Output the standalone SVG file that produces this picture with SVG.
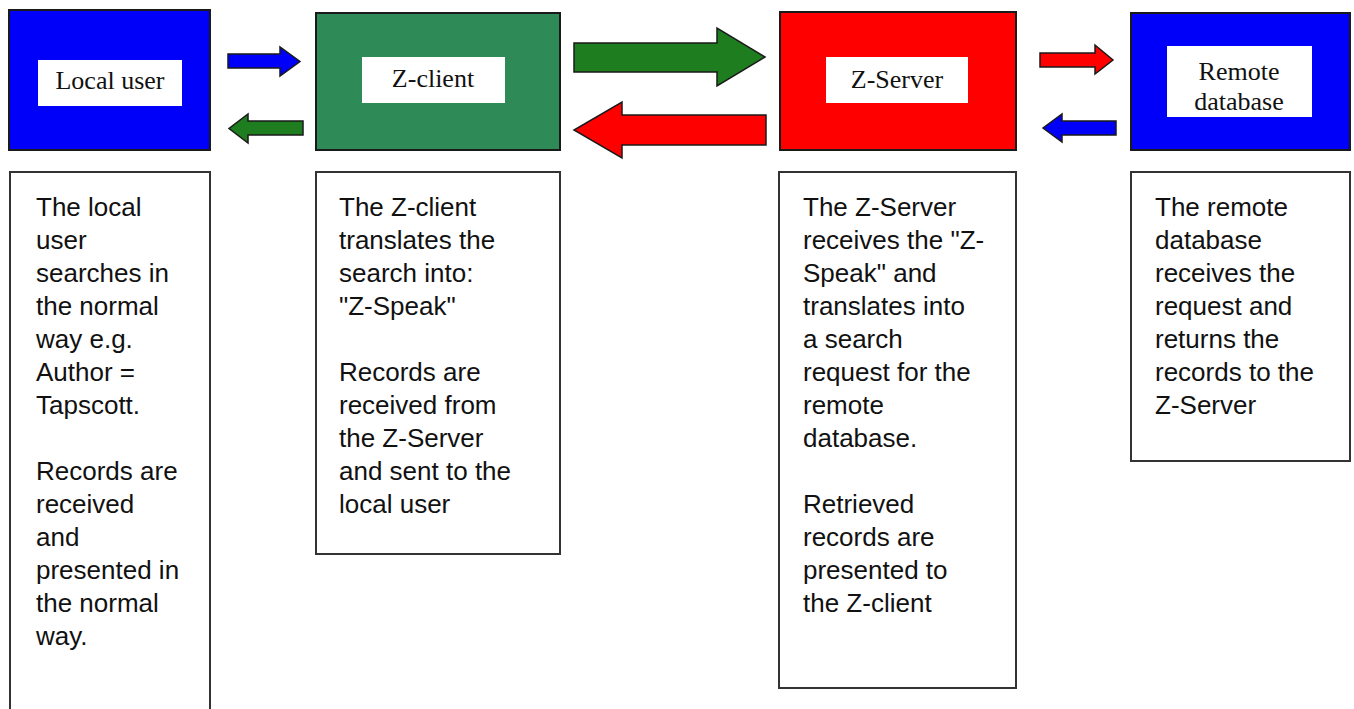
<svg xmlns="http://www.w3.org/2000/svg" width="1354" height="709" viewBox="0 0 1354 709">
<style>
.node{stroke:#1a1a1a;stroke-width:2}
.blue{fill:#0000fa}
.green{fill:#2e8b57}
.red{fill:#ff0000}
.lbl{fill:#ffffff}
.title{font-family:"Liberation Serif","Times New Roman",serif;font-size:26px;fill:#111;text-anchor:middle}
.desc{fill:#ffffff;stroke:#333;stroke-width:2}
.txt{font-family:"Liberation Sans",Arial,sans-serif;font-size:26px;fill:#111}
.arr{stroke:#1a1a1a;stroke-width:1.5;stroke-linejoin:miter}
.ag{fill:#1e7d1e}
.ab{fill:#0000fa}
.ar{fill:#ff0000}
</style>
<rect width="1354" height="709" fill="#ffffff"/>

<g id="local-user">
<rect class="node blue" x="9" y="10" width="201" height="140"/>
<rect class="lbl" x="38" y="60" width="144" height="46"/>
<text class="title" x="110" y="89">Local user</text>
</g>

<g id="z-client">
<rect class="node green" x="316" y="13" width="244" height="137"/>
<rect class="lbl" x="362" y="57" width="143" height="46"/>
<text class="title" x="433" y="87">Z-client</text>
</g>

<g id="z-server">
<rect class="node red" x="780" y="12" width="236" height="138"/>
<rect class="lbl" x="826" y="57" width="142" height="46"/>
<text class="title" x="897" y="88">Z-Server</text>
</g>

<g id="remote-database">
<rect class="node blue" x="1131" y="13" width="219" height="137"/>
<rect class="lbl" x="1167" y="46" width="145" height="71"/>
<text class="title" x="1239" y="80">Remote</text>
<text class="title" x="1239" y="110">database</text>
</g>

<g id="connectors">
<polygon class="arr ab" points="228,54 280,54 280,47 300,61.5 280,76 280,68 228,68"/>
<polygon class="arr ag" points="303,121 248,121 248,114 229,128.5 248,143 248,135 303,135"/>
<polygon class="arr ag" points="574,43 717,43 717,28 765,57 717,86 717,72 574,72"/>
<polygon class="arr ar" points="766,115 622,115 622,102 574,130 622,158 622,145 766,145"/>
<polygon class="arr ar" points="1040,53 1095,53 1095,45 1113,60 1095,74 1095,67 1040,67"/>
<polygon class="arr ab" points="1116,121 1062,121 1062,114 1043,128 1062,142 1062,135 1116,135"/>
</g>

<g id="local-user-desc">
<rect class="desc" x="10" y="172" width="200" height="545"/>
<text class="txt" x="36" y="216">
<tspan x="36" dy="0">The local</tspan>
<tspan x="36" dy="33">user</tspan>
<tspan x="36" dy="33">searches in</tspan>
<tspan x="36" dy="33">the normal</tspan>
<tspan x="36" dy="33">way e.g.</tspan>
<tspan x="36" dy="33">Author =</tspan>
<tspan x="36" dy="33">Tapscott.</tspan>
<tspan x="36" dy="66">Records are</tspan>
<tspan x="36" dy="33">received</tspan>
<tspan x="36" dy="33">and</tspan>
<tspan x="36" dy="33">presented in</tspan>
<tspan x="36" dy="33">the normal</tspan>
<tspan x="36" dy="33">way.</tspan>
</text>
</g>

<g id="z-client-desc">
<rect class="desc" x="316" y="172" width="244" height="382"/>
<text class="txt" x="339" y="216">
<tspan x="339" dy="0">The Z-client</tspan>
<tspan x="339" dy="33">translates the</tspan>
<tspan x="339" dy="33">search into:</tspan>
<tspan x="339" dy="33">"Z-Speak"</tspan>
<tspan x="339" dy="66">Records are</tspan>
<tspan x="339" dy="33">received from</tspan>
<tspan x="339" dy="33">the Z-Server</tspan>
<tspan x="339" dy="33">and sent to the</tspan>
<tspan x="339" dy="33">local user</tspan>
</text>
</g>

<g id="z-server-desc">
<rect class="desc" x="779" y="172" width="237" height="516"/>
<text class="txt" x="803" y="216">
<tspan x="803" dy="0">The Z-Server</tspan>
<tspan x="803" dy="33">receives the "Z-</tspan>
<tspan x="803" dy="33">Speak" and</tspan>
<tspan x="803" dy="33">translates into</tspan>
<tspan x="803" dy="33">a search</tspan>
<tspan x="803" dy="33">request for the</tspan>
<tspan x="803" dy="33">remote</tspan>
<tspan x="803" dy="33">database.</tspan>
<tspan x="803" dy="66">Retrieved</tspan>
<tspan x="803" dy="33">records are</tspan>
<tspan x="803" dy="33">presented to</tspan>
<tspan x="803" dy="33">the Z-client</tspan>
</text>
</g>

<g id="remote-database-desc">
<rect class="desc" x="1131" y="172" width="219" height="289"/>
<text class="txt" x="1155" y="216">
<tspan x="1155" dy="0">The remote</tspan>
<tspan x="1155" dy="33">database</tspan>
<tspan x="1155" dy="33">receives the</tspan>
<tspan x="1155" dy="33">request and</tspan>
<tspan x="1155" dy="33">returns the</tspan>
<tspan x="1155" dy="33">records to the</tspan>
<tspan x="1155" dy="33">Z-Server</tspan>
</text>
</g>
</svg>
